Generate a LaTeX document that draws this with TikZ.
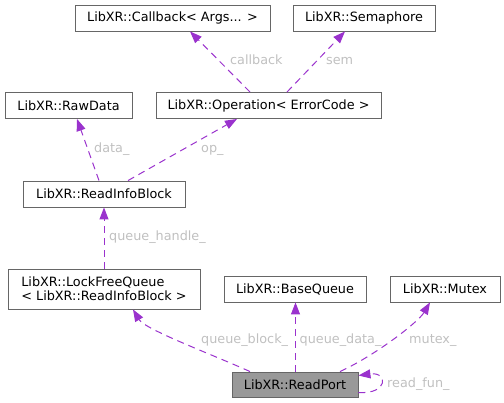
\documentclass[tikz,border=0pt]{standalone}
\usepackage{fontspec}
\setmainfont{DejaVu Sans}
\usetikzlibrary{arrows.meta}
\definecolor{edgecol}{HTML}{9A32CD}
\definecolor{lblcol}{HTML}{C0C0C0}
\definecolor{boxcol}{HTML}{666666}
\definecolor{curcol}{HTML}{999999}
\begin{document}
\begin{tikzpicture}[x=1pt, y=-1pt, >={Triangle[length=12pt,width=9pt]},
  box/.style={draw=boxcol, line width=0.9pt, fill=white, minimum height=26pt,
    inner sep=0pt, font=\fontsize{12.8}{14}\selectfont},
  cur/.style={box, fill=curcol},
  edge/.style={draw=edgecol, line width=1pt, dash pattern=on 7pt off 5pt, ->},
  lbl/.style={text=lblcol, anchor=base west, inner sep=0pt, font=\fontsize{12.8}{14}\selectfont}]
  \useasboundingbox (0,0) rectangle (504,403);
  % classes
  \node[box, minimum width=195pt] (cb) at (172.5,18) {LibXR::Callback< Args... >};
  \node[box, minimum width=142pt] (sem) at (364,18) {LibXR::Semaphore};
  \node[box, minimum width=127pt] (raw) at (68.5,105.5) {LibXR::RawData};
  \node[box, minimum width=225pt] (op) at (268.5,105.5) {LibXR::Operation< ErrorCode >};
  \node[box, minimum width=162pt] (rib) at (104,194) {LibXR::ReadInfoBlock};
  \node[box, minimum width=192pt, minimum height=40pt, align=left] (lfq) at (104,289)
    {LibXR::LockFreeQueue\\< LibXR::ReadInfoBlock >};
  \node[box, minimum width=142pt] (bq) at (295,289) {LibXR::BaseQueue};
  \node[box, minimum width=110pt] (mtx) at (445,289) {LibXR::Mutex};
  \node[cur, minimum width=126pt, minimum height=25pt] (rp) at (295,384.5) {LibXR::ReadPort};
  % members
  \draw[edge] ([xshift=-18.5pt]op.north) -- ([xshift=17.5pt]cb.south);
  \draw[edge] ([xshift=18.5pt]op.north) -- ([xshift=-19pt]sem.south);
  \draw[edge] ([xshift=-5pt]rib.north) -- ([xshift=8.5pt]raw.south);
  \draw[edge] ([xshift=24pt]rib.north) -- ([xshift=-31.5pt]op.south);
  \draw[edge] (lfq) -- (rib);
  \draw[edge] ([xshift=-45pt]rp.north) .. controls +(-40,-18) and +(12,20) .. ([xshift=29pt]lfq.south);
  \draw[edge] ([xshift=0.5pt]rp.north) -- ([xshift=0.5pt]bq.south);
  \draw[edge] ([xshift=45pt]rp.north) .. controls +(35,-16) and +(-12,20) .. ([xshift=-15pt]mtx.south);
  \draw[edge] ([yshift=-8pt]rp.east) .. controls +(30,2) and +(30,-4) .. ([yshift=9pt]rp.east);
  % labels
  \node[lbl] (l_cb) at (230,65) {callback};
  \node[lbl] (l_sem) at (326,65) {sem};
  \node[lbl] (l_raw) at (94,153) {data\_};
  \node[lbl] (l_op) at (201,153) {op\_};
  \node[lbl] (l_rib) at (109,241) {queue\_handle\_};
  \node[lbl] (l_lfq) at (201,344) {queue\_block\_};
  \node[lbl] (l_bq) at (299.5,344) {queue\_data\_};
  \node[lbl] (l_mtx) at (409,344) {mutex\_};
  \node[lbl] (l_rp) at (387,387.5) {read\_fun\_};
\end{tikzpicture}
\end{document}
